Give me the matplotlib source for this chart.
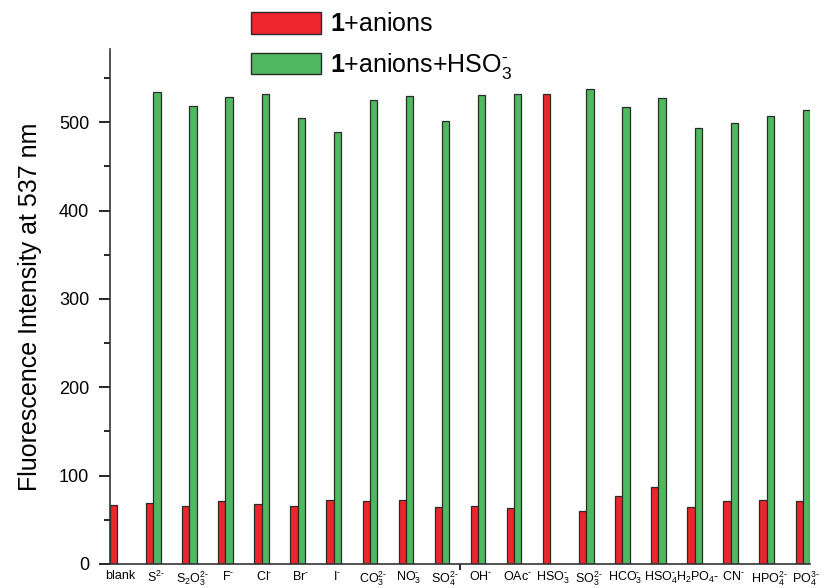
import numpy as np
import matplotlib.pyplot as plt
from matplotlib.patches import Patch

plt.rcParams['font.family'] = 'Liberation Sans'
plt.rcParams['mathtext.fontset'] = 'custom'
plt.rcParams['mathtext.rm'] = 'Liberation Sans'
plt.rcParams['mathtext.it'] = 'Liberation Sans:italic'
plt.rcParams['mathtext.bf'] = 'Liberation Sans:bold'

# short hyphen for charges (narrower than the math minus)
h = '\u2010'

# anions tested, in plotting order
anions = ['blank', f'S$^{{2{h}}}$', f'S$_2$O$_3^{{2{h}}}$', f'F$^{h}$', f'Cl$^{h}$',
          f'Br$^{h}$', f'I$^{h}$', f'CO$_3^{{2{h}}}$', f'NO$_3^{h}$', f'SO$_4^{{2{h}}}$',
          f'OH$^{h}$', f'OAc$^{h}$', f'HSO$_3^{h}$', f'SO$_3^{{2{h}}}$', f'HCO$_3^{h}$',
          f'HSO$_4^{h}$', 'H$_2$PO$_4$-', f'CN$^{h}$', f'HPO$_4^{{2{h}}}$',
          f'PO$_4^{{3{h}}}$']

# fluorescence intensity at 537 nm
probe_anion = [67, 69, 66, 71, 68, 66, 72, 71, 73, 64,
               66, 63, 532, 60, 77, 87, 65, 71, 72, 71]
probe_anion_hso3 = [np.nan, 534, 519, 529, 532, 505, 489, 525, 530, 502,
                    531, 532, np.nan, 538, 517, 527, 494, 499, 507, 514]

red = '#ec262c'
green = '#4fb960'
edge = '#2b2b2b'

fig = plt.figure(figsize=(8.38, 5.88), dpi=100)
ax = fig.add_axes([110 / 838, 1 - 564 / 588, 700 / 838, 515 / 588])

x = np.arange(len(anions))
w = 0.2
ax.bar(x - w / 2, probe_anion, w, color=red, edgecolor=edge, linewidth=0.9)
ax.bar(x + w / 2, probe_anion_hso3, w, color=green, edgecolor=edge, linewidth=0.9)

ax.set_xlim(-0.2, 19.2)
ax.set_ylim(0, 583)

ax.set_xticks(x + 0.08)
ax.set_xticklabels(anions, fontsize=9)
ax.set_xticks([9.5], minor=True)
ax.tick_params(axis='x', which='major', length=0, pad=4)
ax.tick_params(axis='x', which='minor', length=4, width=1.2, direction='out')

ax.set_yticks(np.arange(0, 501, 100))
ax.set_yticks(np.arange(50, 551, 100), minor=True)
ax.tick_params(axis='y', which='major', length=8, width=1.2, labelsize=13, pad=7)
ax.tick_params(axis='y', which='minor', length=4, width=1.2)
ax.set_ylabel('Fluorescence Intensity at 537 nm', fontsize=18, labelpad=12)

for side in ['top', 'right']:
    ax.spines[side].set_visible(False)
for side in ['left', 'bottom']:
    ax.spines[side].set_linewidth(1.2)
    ax.spines[side].set_color('#333333')

handles = [Patch(facecolor=red, edgecolor=edge, linewidth=1),
           Patch(facecolor=green, edgecolor=edge, linewidth=1)]
labels = [r'$\mathbf{1}$+anions', r'$\mathbf{1}$+anions+HSO$_3^{' + h + '}$']
fig.legend(handles, labels, loc='upper left', bbox_to_anchor=(251 / 838, 1 - 12 / 588),
           frameon=False, fontsize=18, handlelength=2.8, handleheight=0.95,
           handletextpad=0.35, labelspacing=0.58, borderpad=0, borderaxespad=0)

fig.savefig('out.png', dpi=100)
